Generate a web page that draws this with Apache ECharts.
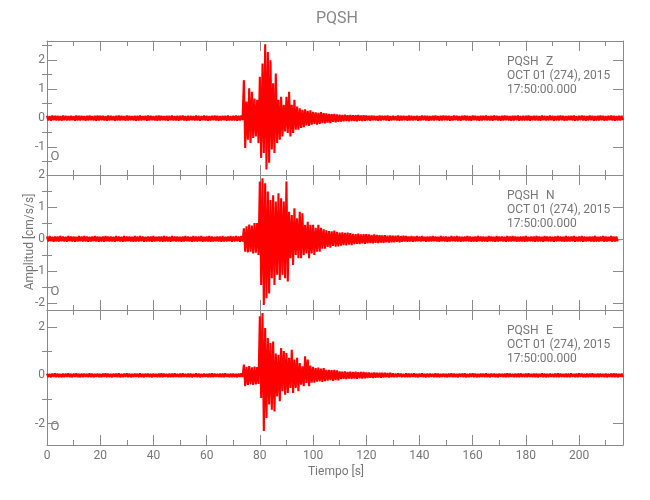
<!DOCTYPE html>
<html>
<head>
<meta charset="utf-8">
<script src="https://cdn.jsdelivr.net/npm/echarts@6/dist/echarts.min.js"></script>
<style>html,body{margin:0;padding:0;background:#fff}#c{width:650px;height:500px}</style>
</head>
<body>
<div id="c"></div>
<script>
// ---- DATA (per-second upper peak / lower trough, cm/s/s) ----
const stationName = "PQSH";
const components = ["Z", "N", "E"];
const dateLine = "OCT 01 (274), 2015";
const timeLine = "17:50:00.000";
const startTime = 0;      // s, first sample
const sampleStep = 1;     // s between envelope samples

// Z component, t = 0..216 s
const zUp = [
.08,.07,.09,.08,.08,.07,.09,.08,.07,.08,
.07,.09,.08,.08,.07,.08,.09,.07,.08,.09,
.08,.08,.07,.09,.08,.07,.08,.09,.08,.07,
.09,.08,.07,.08,.08,.09,.07,.08,.09,.08,
.07,.08,.09,.08,.07,.08,.08,.09,.07,.08,
.08,.09,.07,.08,.08,.07,.09,.08,.07,.09,
.08,.07,.08,.09,.08,.07,.08,.08,.09,.07,
.08,.09,.08,.09,1.31,.57,1.03,.91,.68,.63,
1.43,1.88,2.55,2.28,2.00,1.20,1.54,.63,.74,.46,
.74,.91,.46,.63,.40,.34,.29,.30,.25,.27,
.22,.20,.18,.21,.17,.16,.15,.14,.15,.13,
.12,.11,.12,.10,.11,.10,.10,.11,.09,.10,
.09,.08,.09,.08,.07,.09,.08,.08,.09,.07,
.08,.07,.09,.08,.08,.07,.09,.08,.07,.08,
.07,.09,.08,.08,.07,.08,.09,.07,.08,.09,
.08,.08,.07,.09,.08,.07,.08,.09,.08,.07,
.09,.08,.07,.08,.08,.09,.07,.08,.09,.08,
.07,.08,.09,.08,.07,.08,.08,.09,.07,.08,
.08,.09,.07,.08,.08,.07,.09,.08,.07,.09,
.08,.07,.08,.09,.08,.07,.08,.08,.09,.07,
.08,.09,.08,.07,.09,.08,.07,.08,.09,.08,
.07,.08,.09,.08,.07,.08,.08
];
const zDn = [
-.08,-.09,-.07,-.08,-.08,-.09,-.07,-.08,-.08,-.07,
-.09,-.08,-.08,-.07,-.09,-.08,-.07,-.08,-.09,-.08,
-.07,-.08,-.09,-.08,-.07,-.09,-.08,-.08,-.07,-.09,
-.08,-.07,-.08,-.09,-.08,-.08,-.07,-.09,-.08,-.07,
-.08,-.09,-.08,-.07,-.08,-.09,-.07,-.08,-.08,-.09,
-.07,-.08,-.09,-.08,-.07,-.08,-.08,-.09,-.07,-.08,
-.09,-.08,-.07,-.08,-.09,-.08,-.07,-.09,-.08,-.08,
-.08,-.09,-.08,-.07,-1.03,-.74,-.86,-.68,-.63,-.86,
-1.37,-1.20,-1.77,-1.54,-1.08,-1.20,-.86,-.74,-.63,-.46,
-.51,-.63,-.51,-.40,-.40,-.34,-.31,-.25,-.27,-.22,
-.20,-.22,-.20,-.17,-.18,-.15,-.17,-.13,-.14,-.13,
-.12,-.11,-.10,-.11,-.10,-.10,-.11,-.09,-.10,-.09,
-.08,-.09,-.07,-.08,-.09,-.08,-.07,-.08,-.09,-.08,
-.07,-.08,-.09,-.08,-.07,-.09,-.08,-.08,-.07,-.09,
-.08,-.07,-.08,-.09,-.08,-.08,-.07,-.09,-.08,-.07,
-.08,-.09,-.08,-.07,-.08,-.09,-.07,-.08,-.08,-.09,
-.07,-.08,-.09,-.08,-.07,-.08,-.08,-.09,-.07,-.08,
-.09,-.08,-.07,-.08,-.09,-.08,-.07,-.09,-.08,-.08,
-.08,-.09,-.07,-.08,-.08,-.09,-.07,-.08,-.08,-.07,
-.09,-.08,-.08,-.07,-.09,-.08,-.07,-.08,-.09,-.08,
-.07,-.08,-.09,-.08,-.07,-.09,-.08,-.08,-.07,-.09,
-.08,-.07,-.08,-.09,-.08,-.08,-.07
];

// N component, t = 0..214 s
const nUp = [
.08,.09,.07,.08,.08,.09,.08,.07,.09,.08,
.08,.07,.09,.08,.09,.08,.07,.08,.09,.08,
.07,.08,.09,.08,.08,.07,.09,.08,.07,.09,
.08,.08,.07,.09,.08,.09,.08,.07,.08,.08,
.09,.07,.08,.08,.09,.08,.07,.09,.08,.08,
.07,.08,.09,.08,.07,.09,.08,.08,.09,.07,
.08,.09,.08,.07,.08,.08,.09,.07,.08,.09,
.08,.09,.08,.09,.33,.40,.45,.42,.50,.50,
1.80,1.90,1.74,1.48,1.22,1.37,1.17,1.43,1.27,1.17,
1.80,.85,.75,.96,.65,.85,.80,.44,.54,.44,
.44,.35,.44,.35,.30,.27,.25,.24,.26,.22,
.20,.21,.19,.20,.18,.16,.15,.17,.14,.15,
.15,.14,.13,.14,.13,.12,.11,.12,.10,.11,
.10,.10,.11,.09,.10,.09,.08,.09,.08,.09,
.08,.09,.07,.08,.08,.09,.08,.07,.09,.08,
.08,.07,.09,.08,.09,.08,.07,.08,.09,.08,
.07,.08,.09,.08,.08,.07,.09,.08,.07,.09,
.08,.08,.07,.09,.08,.09,.08,.07,.08,.08,
.09,.07,.08,.08,.09,.08,.07,.09,.08,.08,
.07,.08,.09,.08,.07,.09,.08,.08,.09,.07,
.08,.09,.08,.07,.08,.08,.09,.07,.08,.09,
.08,.07,.09,.08,.08
];
const nDn = [
-.08,-.07,-.09,-.08,-.08,-.07,-.08,-.09,-.07,-.08,
-.09,-.08,-.07,-.08,-.08,-.09,-.08,-.07,-.08,-.09,
-.08,-.09,-.07,-.08,-.08,-.09,-.07,-.08,-.09,-.08,
-.07,-.08,-.09,-.08,-.08,-.07,-.09,-.08,-.08,-.09,
-.08,-.07,-.08,-.09,-.08,-.08,-.09,-.07,-.08,-.08,
-.09,-.08,-.07,-.08,-.09,-.08,-.08,-.07,-.09,-.08,
-.08,-.09,-.08,-.07,-.08,-.09,-.08,-.08,-.07,-.09,
-.08,-.07,-.09,-.08,-.40,-.42,-.40,-.45,-.43,-.50,
-1.44,-2.06,-1.85,-1.70,-1.23,-1.44,-1.12,-1.28,-1.12,-1.23,
-1.33,-.60,-.81,-.50,-.60,-.60,-.50,-.45,-.60,-.45,
-.50,-.40,-.40,-.30,-.30,-.25,-.27,-.22,-.24,-.23,
-.21,-.19,-.20,-.18,-.19,-.16,-.15,-.16,-.14,-.15,
-.14,-.13,-.14,-.12,-.13,-.11,-.12,-.10,-.11,-.10,
-.10,-.09,-.10,-.09,-.08,-.09,-.08,-.09,-.08,-.07,
-.08,-.07,-.09,-.08,-.08,-.07,-.08,-.09,-.07,-.08,
-.09,-.08,-.07,-.08,-.08,-.09,-.08,-.07,-.08,-.09,
-.08,-.09,-.07,-.08,-.08,-.09,-.07,-.08,-.09,-.08,
-.07,-.08,-.09,-.08,-.08,-.07,-.09,-.08,-.08,-.09,
-.08,-.07,-.08,-.09,-.08,-.08,-.09,-.07,-.08,-.08,
-.09,-.08,-.07,-.08,-.09,-.08,-.08,-.07,-.09,-.08,
-.08,-.09,-.08,-.07,-.08,-.09,-.08,-.08,-.07,-.09,
-.08,-.07,-.09,-.08,-.08
];

// E component, t = 0..216 s
const eUp = [
.07,.06,.07,.08,.07,.06,.07,.07,.08,.06,
.07,.08,.06,.07,.07,.06,.08,.07,.06,.07,
.06,.07,.08,.07,.06,.07,.07,.08,.06,.07,
.08,.07,.06,.07,.07,.08,.06,.07,.07,.06,
.07,.06,.07,.08,.07,.06,.07,.07,.08,.06,
.07,.08,.06,.07,.07,.06,.08,.07,.06,.07,
.06,.07,.08,.07,.06,.07,.07,.08,.06,.07,
.07,.06,.07,.08,.44,.35,.38,.33,.36,.34,
2.44,2.58,1.96,1.54,1.33,1.40,.90,.85,1.13,1.00,
.92,.72,1.06,.65,.72,.51,.37,.79,.65,.40,
.35,.30,.32,.28,.30,.23,.22,.21,.22,.20,
.16,.15,.16,.14,.15,.14,.15,.13,.14,.14,
.12,.12,.11,.12,.10,.11,.10,.10,.09,.10,
.08,.07,.08,.07,.06,.08,.07,.07,.08,.06,
.07,.08,.06,.07,.07,.06,.08,.07,.06,.07,
.06,.07,.08,.07,.06,.07,.07,.08,.06,.07,
.08,.07,.06,.07,.07,.08,.06,.07,.07,.06,
.07,.06,.07,.08,.07,.06,.07,.07,.08,.06,
.07,.08,.06,.07,.07,.06,.08,.07,.06,.07,
.06,.07,.08,.07,.06,.07,.07,.08,.06,.07,
.08,.07,.06,.07,.07,.08,.06,.07,.07,.06,
.07,.06,.07,.08,.07,.06,.07
];
const eDn = [
-.07,-.08,-.06,-.07,-.07,-.08,-.07,-.06,-.07,-.08,
-.06,-.07,-.08,-.07,-.06,-.07,-.07,-.08,-.06,-.07,
-.08,-.06,-.07,-.07,-.08,-.06,-.07,-.08,-.07,-.06,
-.07,-.08,-.07,-.06,-.07,-.07,-.08,-.06,-.07,-.08,
-.06,-.07,-.08,-.07,-.06,-.07,-.07,-.08,-.06,-.07,
-.08,-.06,-.07,-.07,-.08,-.06,-.07,-.08,-.07,-.06,
-.07,-.08,-.07,-.06,-.07,-.07,-.08,-.06,-.07,-.08,
-.07,-.08,-.06,-.07,-.45,-.40,-.37,-.40,-.38,-.36,
-.94,-2.30,-1.76,-1.21,-1.42,-1.49,-.87,-1.07,-.66,-.80,
-.73,-.52,-.73,-.52,-.66,-.39,-.45,-.32,-.45,-.30,
-.30,-.26,-.25,-.27,-.24,-.22,-.20,-.23,-.20,-.21,
-.15,-.14,-.15,-.13,-.14,-.13,-.14,-.12,-.13,-.12,
-.11,-.10,-.11,-.10,-.09,-.10,-.09,-.08,-.09,-.08,
-.07,-.08,-.06,-.07,-.07,-.08,-.07,-.06,-.07,-.08,
-.06,-.07,-.08,-.07,-.06,-.07,-.07,-.08,-.06,-.07,
-.08,-.06,-.07,-.07,-.08,-.06,-.07,-.08,-.07,-.06,
-.07,-.08,-.07,-.06,-.07,-.07,-.08,-.06,-.07,-.08,
-.06,-.07,-.08,-.07,-.06,-.07,-.07,-.08,-.06,-.07,
-.08,-.06,-.07,-.07,-.08,-.06,-.07,-.08,-.07,-.06,
-.07,-.08,-.07,-.06,-.07,-.07,-.08,-.06,-.07,-.08,
-.06,-.07,-.08,-.07,-.06,-.07,-.07,-.08,-.06,-.07,
-.08,-.06,-.07,-.07,-.08,-.06,-.07
];

// axes
const xMin = 0, xMax = 216.5, xInterval = 20;
const yRanges = [[-1.96, 2.66], [-2.22, 2.0], [-2.88, 2.70]];
const yLabelValues = [[-1, 0, 1, 2], [-2, -1, 0, 1, 2], [-2, 0, 2]];
const yMajorTicks = [[-1, 0, 1, 2], [-2, -1, 0, 1, 2], [-2, 0, 2]];
const yMinorTicks = [[-1.5, -0.5, 0.5, 1.5, 2.5], [-1.5, -0.5, 0.5, 1.5], [-1, 1]];
const xAxisTitle = "Tiempo [s]";
const yAxisTitle = "Amplitud [cm/s/s]";
const cornerMark = "O";

// ---- CHART ----
const FONT = "Roboto, 'Liberation Sans', sans-serif";
const TXT = "#777";
const AX = "#8a8a8a";
const RED = "#ff0000";

function traceData(up, dn) {
  const d = [];
  for (let i = 0; i < up.length; i++) {
    const t = startTime + i * sampleStep;
    d.push([t, up[i]]);
    d.push([t + sampleStep / 2, dn[i]]);
  }
  return d;
}
const traces = [traceData(zUp, zDn), traceData(nUp, nDn), traceData(eUp, eDn)];

const grids = [
  { left: 47, top: 41, width: 576, height: 134 },
  { left: 47, top: 175, width: 576, height: 135 },
  { left: 47, top: 310, width: 576, height: 135 }
];

const xAxes = [], yAxes = [], series = [];
grids.forEach((g, k) => {
  ['bottom', 'top'].forEach(pos => {
    xAxes.push({
      type: 'value', gridIndex: k, position: pos, min: xMin, max: xMax, interval: xInterval,
      axisLine: { show: true, onZero: false, lineStyle: { color: AX, width: 1 } },
      axisTick: { show: true, inside: true, length: 10, lineStyle: { color: AX } },
      minorTick: { show: true, splitNumber: 2, length: 5, lineStyle: { color: AX } },
      splitLine: { show: false },
      axisLabel: { show: pos === 'bottom' && k === 2, color: TXT, fontSize: 12, fontFamily: FONT, margin: 5, showMaxLabel: false },
    });
  });
  const yBase = yAxes.length;
  ['left', 'right'].forEach(pos => {
    yAxes.push({
      type: 'value', gridIndex: k, position: pos, min: yRanges[k][0], max: yRanges[k][1],
      axisLine: { show: true, onZero: false, lineStyle: { color: AX, width: 1 } },
      axisTick: { show: true, inside: true, length: 10, customValues: yMajorTicks[k], lineStyle: { color: AX } },
      splitLine: { show: false },
      axisLabel: { show: pos === 'left', customValues: yLabelValues[k], color: TXT, fontSize: 12, fontFamily: FONT, margin: 2 },
    });
    yAxes.push({
      type: 'value', gridIndex: k, position: pos, min: yRanges[k][0], max: yRanges[k][1],
      axisLine: { show: false },
      axisTick: { show: true, inside: true, length: 5, customValues: yMinorTicks[k], lineStyle: { color: AX } },
      splitLine: { show: false },
      axisLabel: { show: false },
    });
  });
  series.push({
    type: 'line', xAxisIndex: k * 2, yAxisIndex: yBase, data: traces[k],
    showSymbol: false, symbol: 'none', sampling: false, animation: false, clip: true,
    lineStyle: { color: RED, width: 2.1, join: 'bevel', cap: 'butt' }, silent: true, z: 2
  });
});

const graphics = [
  { type: 'text', x: 337, y: 19, style: { text: stationName, fill: '#888', font: "16px " + FONT, align: 'center', verticalAlign: 'middle', textAlign: 'center', textVerticalAlign: 'middle' } },
  { type: 'text', x: 336, y: 472, style: { text: xAxisTitle, fill: TXT, font: "12px " + FONT, align: 'center', verticalAlign: 'middle', textAlign: 'center', textVerticalAlign: 'middle' } },
  { type: 'text', x: 30, y: 242, rotation: Math.PI / 2, style: { text: yAxisTitle, fill: TXT, font: "12px " + FONT, align: 'center', verticalAlign: 'middle', textAlign: 'center', textVerticalAlign: 'middle' } }
];
grids.forEach((g, k) => {
  const base = g.top + 21;
  const lines = [[stationName, 507, base], [components[k], 546, base], [dateLine, 507, base + 14], [timeLine, 507, base + 28]];
  lines.forEach(([t, x, y]) => graphics.push({ type: 'text', x: x, y: y, style: { text: t, fill: TXT, font: "12px " + FONT, align: 'left', verticalAlign: 'middle', textAlign: 'left', textVerticalAlign: 'middle' } }));
  graphics.push({ type: 'text', x: 55, y: g.top + g.height - 18, style: { text: cornerMark, fill: TXT, font: "13px " + FONT, align: 'center', verticalAlign: 'middle', textAlign: 'center', textVerticalAlign: 'middle' } });
});

const chart = echarts.init(document.getElementById('c'), null, { renderer: 'canvas' });
chart.setOption({
  animation: false,
  backgroundColor: '#fff',
  grid: grids,
  xAxis: xAxes,
  yAxis: yAxes,
  series: series,
  graphic: graphics
});
</script>
</body>
</html>
